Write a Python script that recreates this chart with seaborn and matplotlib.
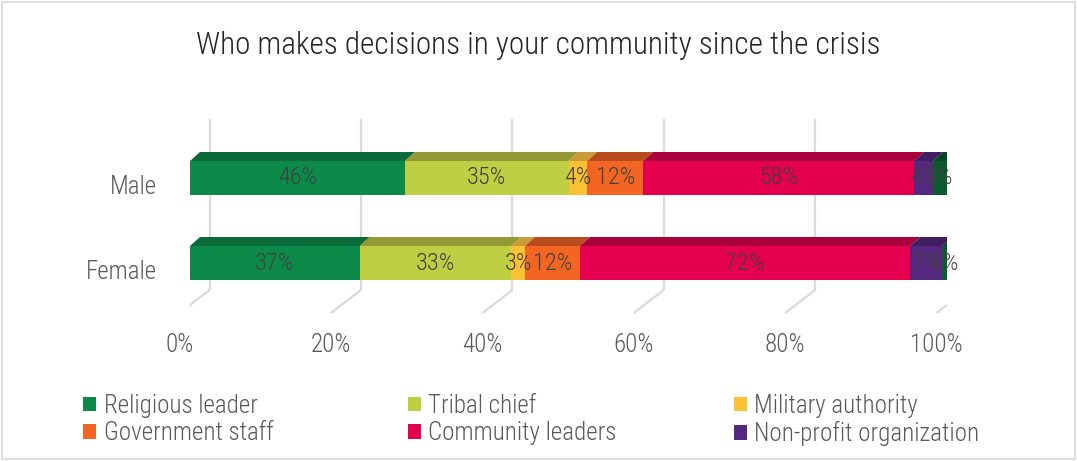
import matplotlib
matplotlib.use("Agg")
import matplotlib.pyplot as plt
from matplotlib import font_manager as fm
from matplotlib.patches import Polygon, Rectangle, Patch
import numpy as np
import pandas as pd
import seaborn as sns

# ---- data -------------------------------------------------------------
groups = ["Male", "Female"]
series = ["Religious leader", "Tribal chief", "Military authority",
          "Government staff", "Community leaders", "Non-profit organization",
          "Other"]
male_values = [46, 35, 4, 12, 58, 4, 3]
female_values = [37, 33, 3, 12, 72, 7, 1]
tick_values = [0, 20, 40, 60, 80, 100]
title = "Who makes decisions in your community since the crisis"

front_colors = ["#0C8A4A", "#BFCF44", "#FBC135", "#F26522", "#E4004F", "#55287F", "#0B5A30"]
top_colors = ["#0A6A39", "#939A35", "#C99A35", "#B84C1E", "#AA003B", "#3F1F62", "#084526"]
side_color = "#033620"

sns.set_theme(style="white")

# pick a narrow sans face if one is installed
installed = fm.fontManager.ttflist
names = {f.name for f in installed}
font_kw = {}
if "Roboto Condensed" in names:
    plt.rcParams["font.family"] = ["Roboto Condensed", "DejaVu Sans"]
    font_kw = dict(fontweight="light")
elif "Liberation Sans Narrow" in names:
    plt.rcParams["font.family"] = ["Liberation Sans Narrow", "DejaVu Sans"]
elif any(f.name == "DejaVu Sans" and f.stretch == "condensed" for f in installed):
    plt.rcParams["font.family"] = ["DejaVu Sans"]
    plt.rcParams["font.stretch"] = "condensed"
else:
    plt.rcParams["font.family"] = ["Roboto", "DejaVu Sans"]
    font_kw = dict(fontweight="light")
TEXT = "#595959"

W, H = 1077, 461
fig = plt.figure(figsize=(W / 100, H / 100), dpi=100)

# plot area: 0..100 % across the bar front faces, one category per 85 px
px_x0, px_x1 = 190, 947
px_top, px_bot = 100, 360
ax = fig.add_axes([px_x0 / W, 1 - px_bot / H, (px_x1 - px_x0) / W, (px_bot - px_top) / H])
ppu_x = (px_x1 - px_x0) / 100.0
ppu_y = 85.0
y_cat0 = 178

def px_to_y(py):
    return (py - y_cat0) / ppu_y

# long-form table of shares (each row normalised to 100 %)
rows = []
for g, vals in zip(groups, [male_values, female_values]):
    vals = np.array(vals, dtype=float)
    share = vals / vals.sum() * 100
    cum = np.cumsum(share)
    for s, v, sh, c in zip(series, vals, share, cum):
        rows.append(dict(group=g, series=s, value=v, share=sh, right=c, left=c - sh))
df = pd.DataFrame(rows)

# back wall gridlines and floor
back_dx = 19.5 / ppu_x
floor_dx = -10.5 / ppu_x
grid_top, grid_bot, floor_front = px_to_y(119), px_to_y(290), px_to_y(313)
grid_kw = dict(color="#D9D9D9", lw=1.6, zorder=0, solid_capstyle="butt")
for t in tick_values:
    ax.plot([t + back_dx, t + back_dx], [grid_top, grid_bot], **grid_kw)
    ax.plot([t + back_dx, t + floor_dx], [grid_bot, floor_front], **grid_kw)
    ax.text(t + floor_dx, px_to_y(345), f"{t}%", ha="center", va="center",
            fontsize=18, color=TEXT, **font_kw)

# stacked bars: cumulative ends drawn from the last series to the first
bar_h = 0.4
for i in range(len(series) - 1, -1, -1):
    sub = df[df["series"] == series[i]]
    sns.barplot(data=sub, x="right", y="group", order=groups, orient="h",
                color=front_colors[i], width=bar_h, saturation=1,
                linewidth=0, ax=ax, zorder=2)
ax.set_xlim(0, 100)
ax.set_ylim((px_bot - y_cat0) / ppu_y, (px_top - y_cat0) / ppu_y)
ax.set_axis_off()

# 3-D top and end faces
dx = 10.0 / ppu_x
dy = -9.0 / ppu_y
for gi, g in enumerate(groups):
    sub = df[df["group"] == g].reset_index(drop=True)
    y_top = gi - bar_h / 2
    y_bot = gi + bar_h / 2
    for i, r in sub.iterrows():
        poly = [(r.left, y_top), (r.right, y_top), (r.right + dx, y_top + dy), (r.left + dx, y_top + dy)]
        ax.add_patch(Polygon(poly, closed=True, facecolor=top_colors[i], edgecolor="none", zorder=2.5))
    end = sub["right"].iloc[-1]
    side = [(end, y_top), (end + dx, y_top + dy), (end + dx, y_bot + dy), (end, y_bot)]
    ax.add_patch(Polygon(side, closed=True, facecolor=side_color, edgecolor="none", zorder=2.5))
    for i, r in sub.iterrows():
        ax.text((r.left + r.right) / 2, gi, f"{int(r.value)}%", ha="center", va="center",
                fontsize=17.5, color="#404040", zorder=4, **font_kw)
    ax.text(-33 / ppu_x, gi + 9 / ppu_y, g, ha="right", va="center", fontsize=18,
            color=TEXT, **font_kw)

# title
fig.text(0.5, 1 - 45 / H, title, ha="center", va="center", fontsize=22.5,
         color="#262626", **font_kw)

# legend: three columns of two entries
cols = [[0, 3], [1, 4], [2, 5]]
col_x = [83, 408, 734]
for cx, idx in zip(col_x, cols):
    handles = [Patch(facecolor=front_colors[k], edgecolor="none") for k in idx]
    labels = [series[k] for k in idx]
    leg = fig.legend(handles, labels, loc="upper left", bbox_to_anchor=(cx / W, 1 - 394 / H),
                     frameon=False, fontsize=18, handlelength=0.52, handleheight=0.52,
                     handletextpad=0.3, labelspacing=0.13, borderpad=0, borderaxespad=0,
                     labelcolor=TEXT)
    if font_kw:
        for txt in leg.get_texts():
            txt.set_fontweight(font_kw["fontweight"])

fig.add_artist(Rectangle((2 / W, 2 / H), 1 - 4 / W, 1 - 4 / H, transform=fig.transFigure,
                         facecolor="none", edgecolor="#D9D9D9", lw=1.2))

fig.savefig("out.png", dpi=100)
